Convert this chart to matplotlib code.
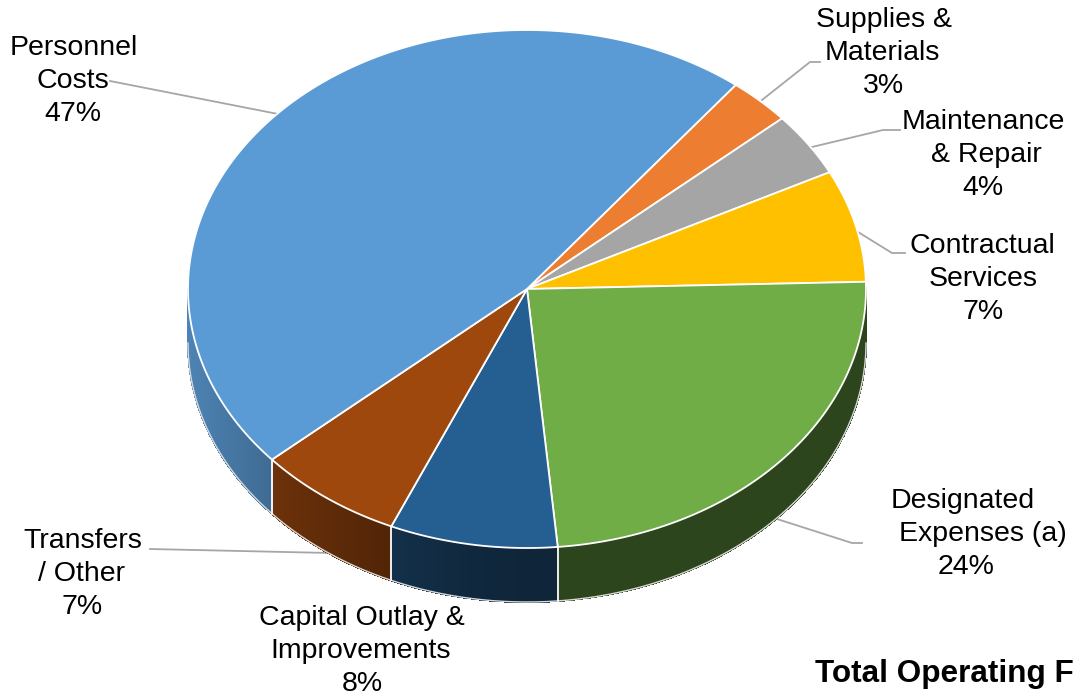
import numpy as np
import matplotlib.pyplot as plt
from matplotlib.patches import Polygon
from matplotlib.collections import PolyCollection
from matplotlib.colors import to_rgb

plt.rcParams['font.family'] = ['Liberation Sans', 'DejaVu Sans']

# spending by category, clockwise from the orange slice
categories = ['Supplies &\nMaterials', 'Maintenance\n& Repair', 'Contractual\nServices',
              'Designated\nExpenses (a)', 'Capital Outlay &\nImprovements',
              'Transfers\n/ Other', 'Personnel\nCosts']
percents = [3, 4, 7, 24, 8, 7, 47]
colors = ['#ED7D31', '#A5A5A5', '#FFC000', '#70AD47', '#255E91', '#9E480E', '#5B9BD5']

# pie geometry (pixels)
cx, cy, rx, ry, depth = 527, 289, 339, 259, 54
start = 52.0

# label placement: x centre of each line, baseline of first line
label_x = [[884, 882, 883], [983, 986, 983], [982, 983, 983], [963, 983, 966],
           [362, 361, 362], [83, 82, 82], [74, 73, 73]]
label_y = [27, 129, 253, 508, 625, 548, 55]
leaders = [[(820, 62), (810, 62), (762, 100)],
           [(900, 130), (883, 130), (812, 147)],
           [(905, 253), (892, 253), (858, 232)],
           [(862, 543), (852, 543), (777, 519)],
           None,
           [(150, 549), (330, 553)],
           [(110, 81), (278, 114)]]


def rim(t):
    t = np.radians(t)
    return cx + rx * np.cos(t), cy - ry * np.sin(t)


def shade(t):
    c = np.cos(np.radians(t))
    return 0.40 + 0.45 * max(0.0, -c) ** 1.5


fig = plt.figure(figsize=(10.75, 6.98), dpi=100)
ax = fig.add_axes([0, 0, 1, 1])
ax.set_xlim(0, 1075)
ax.set_ylim(698, 0)
ax.axis('off')

bounds = start - np.concatenate([[0], np.cumsum(percents)]) * 3.6

# leader lines sit behind the pie
for pts in leaders:
    if pts is None:
        continue
    xs, ys = zip(*pts)
    ax.plot(xs, ys, color='#A6A6A6', lw=1.3, zorder=1)

# side walls, shaded strip by strip
quads, fcs = [], []
step = 0.5
for a0, a1, col in zip(bounds[:-1], bounds[1:], colors):
    base = np.array(to_rgb(col))
    t = a1
    while t < a0 - 1e-9:
        t2 = min(t + step, a0)
        mid = (t + t2) / 2
        if np.sin(np.radians(mid)) < 0:
            x1, y1 = rim(t)
            x2, y2 = rim(t2)
            quads.append([(x1, y1), (x2, y2), (x2, y2 + depth), (x1, y1 + depth)])
            fcs.append(np.clip(base * shade(mid), 0, 1))
        t = t2
ax.add_collection(PolyCollection(quads, facecolors=fcs, edgecolors=fcs,
                                 linewidths=0.8, antialiaseds=False, zorder=2))

# faint outline under the walls
tt = np.linspace(-180, 0, 400)
bx, by = rim(tt)
ax.plot(bx, by + depth, color='#D9D9D9', lw=1.0, zorder=2)

# white seams where slices meet on the wall
for b in bounds[:-1]:
    if np.sin(np.radians(b)) < -0.01:
        x, y = rim(b)
        ax.plot([x, x], [y, y + depth], color='white', lw=1.3, zorder=3)

# top face
for a0, a1, col in zip(bounds[:-1], bounds[1:], colors):
    tt = np.linspace(a0, a1, 300)
    xs, ys = rim(tt)
    pts = [(cx, cy)] + list(zip(xs, ys))
    ax.add_patch(Polygon(pts, closed=True, facecolor=col, edgecolor='white',
                         lw=1.3, joinstyle='round', zorder=4))

# data labels
for name, pct, xs, y0 in zip(categories, percents, label_x, label_y):
    lines = name.split('\n') + [f'{pct}%']
    for i, (line, x) in enumerate(zip(lines, xs)):
        ax.text(x, y0 + i * 33, line, ha='center', va='baseline',
                fontsize=20.5, color='black', zorder=5)

ax.text(815, 682, 'Total Operating F', ha='left', va='baseline',
        fontsize=22.7, fontweight='bold', color='black')

fig.savefig('out.png', dpi=100)
